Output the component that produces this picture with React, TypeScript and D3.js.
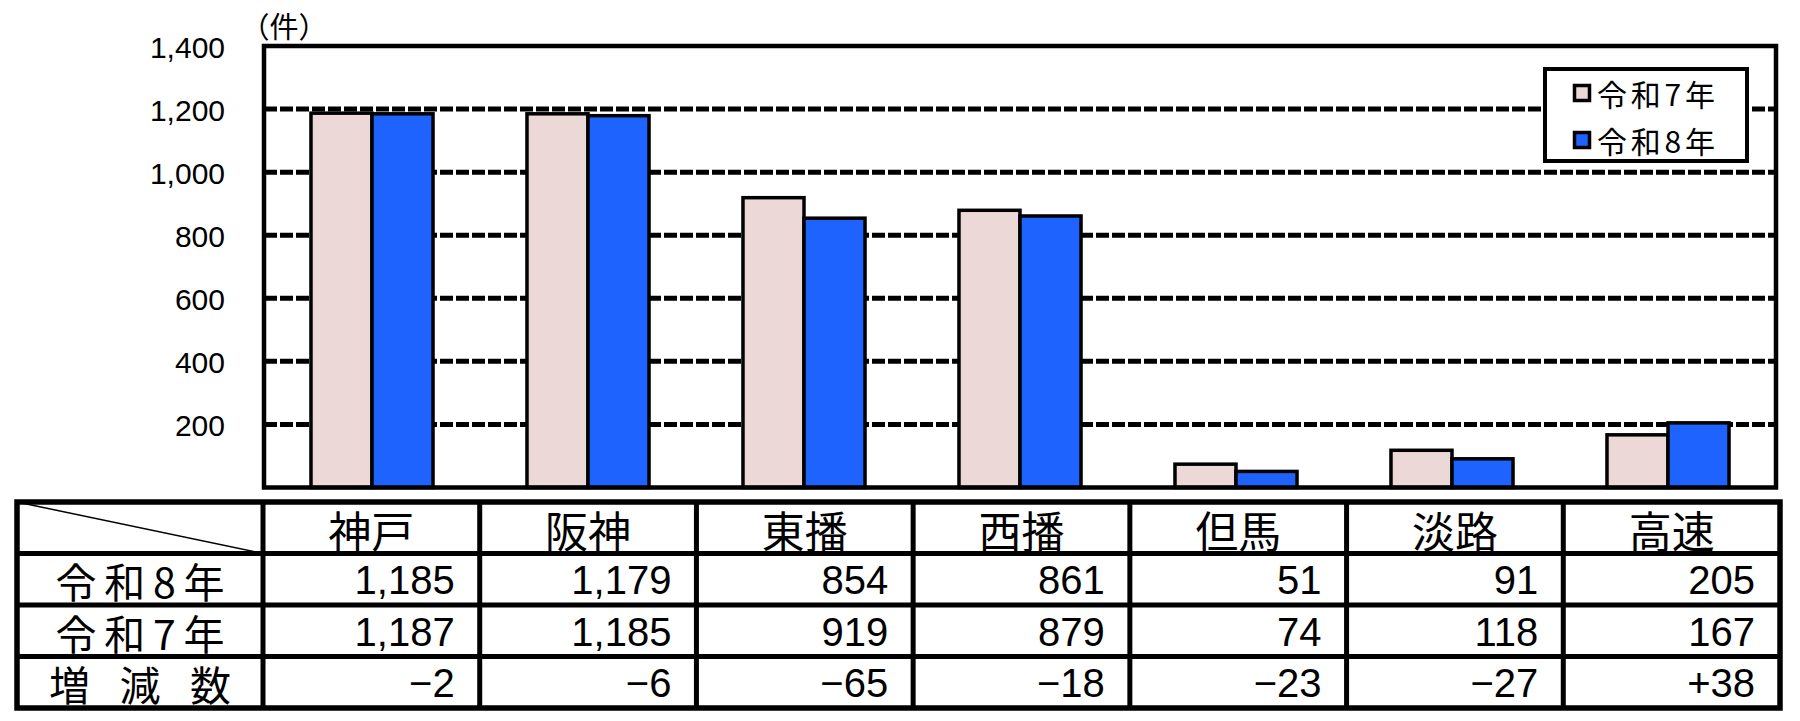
import React from 'react';
import * as d3 from 'd3';

const categories = ['神戸', '阪神', '東播', '西播', '但馬', '淡路', '高速'];
const seriesNames = ['令和7年', '令和8年'];
const reiwa7 = [1187, 1185, 919, 879, 74, 118, 167];
const reiwa8 = [1185, 1179, 854, 861, 51, 91, 205];
const diffLabels = ['−2', '−6', '−65', '−18', '−23', '−27', '+38'];
const yTicks = [200, 400, 600, 800, 1000, 1200, 1400];
const rowLabels = ['令和8年', '令和7年', '増減数'];

const W = 1800;
const H = 721;
const plot = { left: 264, right: 1776, top: 46, bottom: 487.5 };
const table = { left: 17, right: 1780, top: 502, rowH: 51.5, firstCol: 263 };
const colors = ['#ECD8D7', '#1F63FF'];
const cjk = '"Noto Sans CJK JP", "Noto Sans CJK SC", sans-serif';
const num = '"Liberation Sans", Arial, sans-serif';

const App: React.FC = () => {
  const x0 = d3.scaleBand<string>().domain(categories).range([plot.left, plot.right]).padding(0);
  const x1 = d3.scaleBand<string>().domain(seriesNames).range([0, x0.bandwidth()]).paddingInner(0).paddingOuter(0.77);
  const y = d3.scaleLinear().domain([0, 1400]).range([plot.bottom, plot.top]);
  const fmt = d3.format(',');
  const values = [reiwa7, reiwa8];

  const colX = d3.scaleBand<string>().domain(categories).range([table.firstCol, table.right]);
  const rowY = (i: number) => table.top + i * table.rowH;
  const tableBottom = rowY(4);
  const tableRows = [reiwa8.map(fmt), reiwa7.map(fmt), diffLabels];

  return (
    <div style={{ position: 'absolute', left: 0, top: 0 }}>
      <svg width={W} height={H} viewBox={`0 0 ${W} ${H}`} style={{ display: 'block', background: '#fff' }}>
        {/* unit */}
        <text x={284} y={25} textAnchor="middle" dominantBaseline="central" fontFamily={cjk} fontSize={29}>（件）</text>

        {/* gridlines */}
        {yTicks.filter(t => t < 1400).map(t => (
          <line key={t} x1={plot.left} x2={plot.right} y1={y(t)} y2={y(t)}
            stroke="#000" strokeWidth={5} strokeDasharray="13,3" />
        ))}

        {/* y labels */}
        {yTicks.map(t => (
          <text key={t} x={225} y={y(t) + 1} textAnchor="end" dominantBaseline="central"
            fontFamily={num} fontSize={30}>{fmt(t)}</text>
        ))}

        {/* bars */}
        {seriesNames.map((s, si) => (
          <g key={s}>
            {categories.map((c, ci) => (
              <rect key={c}
                x={(x0(c) ?? 0) + (x1(s) ?? 0)}
                y={y(values[si][ci])}
                width={x1.bandwidth()}
                height={plot.bottom - y(values[si][ci])}
                fill={colors[si]} stroke="#000" strokeWidth={3.5} />
            ))}
          </g>
        ))}

        {/* frame */}
        <rect x={plot.left} y={plot.top} width={plot.right - plot.left} height={plot.bottom - plot.top}
          fill="none" stroke="#000" strokeWidth={4.5} />

        {/* legend */}
        <g>
          <rect x={1545} y={69} width={202} height={92} fill="#fff" stroke="#000" strokeWidth={4} />
          {seriesNames.map((s, i) => (
            <g key={s} transform={`translate(1573,${93 + i * 47})`}>
              <rect x={1.5} y={-7.5} width={15} height={15} fill={colors[i]} stroke="#000" strokeWidth={3.5} />
              <text x={24} y={0} dominantBaseline="central" fontFamily={cjk} fontSize={30}
                textLength={118} lengthAdjust="spacing">{s}</text>
            </g>
          ))}
        </g>

        {/* table */}
        <g>
          <line x1={table.left} y1={table.top} x2={table.firstCol} y2={rowY(1)} stroke="#000" strokeWidth={1.5} />
          {categories.map(c => (
            <text key={c} x={(colX(c) ?? 0) + colX.bandwidth() / 2} y={rowY(0.5) + 1}
              textAnchor="middle" dominantBaseline="central" fontFamily={cjk} fontSize={43}>{c}</text>
          ))}
          {rowLabels.map((r, ri) => (
            <text key={r} x={140} y={rowY(ri + 1.5) + 1} textAnchor="middle" dominantBaseline="central"
              fontFamily={cjk} fontSize={41} textLength={ri === 2 ? 182 : 169} lengthAdjust="spacing">{r}</text>
          ))}
          {tableRows.map((row, ri) => row.map((v, ci) => (
            <text key={`${ri}-${ci}`} x={(colX(categories[ci]) ?? 0) + colX.bandwidth() - 25}
              y={rowY(ri + 1.5) + 1} textAnchor="end" dominantBaseline="central"
              fontFamily={num} fontSize={40}>{v}</text>
          )))}
          {[1, 2, 3].map(i => (
            <line key={i} x1={table.left} x2={table.right} y1={rowY(i)} y2={rowY(i)} stroke="#000" strokeWidth={5} />
          ))}
          {categories.map(c => (
            <line key={c} x1={colX(c)} x2={colX(c)} y1={table.top} y2={tableBottom} stroke="#000" strokeWidth={5} />
          ))}
          <rect x={table.left} y={table.top} width={table.right - table.left} height={tableBottom - table.top}
            fill="none" stroke="#000" strokeWidth={5.5} />
        </g>
      </svg>
    </div>
  );
};

export default App;
